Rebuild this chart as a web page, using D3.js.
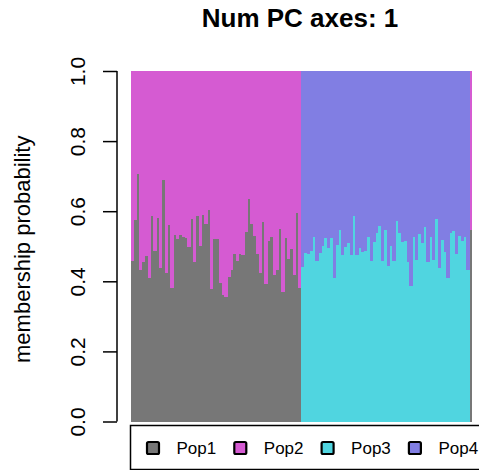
<!DOCTYPE html>
<html>
<head>
<meta charset="utf-8">
<script src="https://cdn.jsdelivr.net/npm/d3@7"></script>
<style>
  html, body { margin: 0; padding: 0; background: #ffffff; }
  svg { display: block; font-family: "Liberation Sans", Arial, sans-serif; }
</style>
</head>
<body>
<div id="chart"></div>
<script>
// Populations and their colours
const popNames = ['Pop1', 'Pop2', 'Pop3', 'Pop4'];
const popColors = ['#777777', '#d55bd2', '#50d5e0', '#817ee3'];

// First block: Pop1 membership per individual (remainder is Pop2)
const blockOnePop1 = [
  0.459, 0.574, 0.705, 0.431, 0.456, 0.472, 0.408, 0.585, 0.487, 0.581,
  0.437, 0.690, 0.423, 0.561, 0.382, 0.532, 0.522, 0.532, 0.526, 0.524,
  0.498, 0.579, 0.454, 0.587, 0.502, 0.589, 0.563, 0.604, 0.378, 0.522,
  0.522, 0.395, 0.361, 0.355, 0.411, 0.433, 0.478, 0.459, 0.478, 0.474,
  0.542, 0.635, 0.563, 0.530, 0.478, 0.425, 0.568, 0.393, 0.516, 0.526,
  0.419, 0.433, 0.549, 0.369, 0.523, 0.464, 0.493, 0.419, 0.595, 0.381,
];

// Second block: Pop3 membership per individual (remainder is Pop4)
const blockTwoPop3 = [
  0.442, 0.482, 0.478, 0.487, 0.525, 0.457, 0.481, 0.501, 0.523, 0.494,
  0.523, 0.409, 0.504, 0.547, 0.475, 0.499, 0.509, 0.476, 0.587, 0.475,
  0.494, 0.483, 0.487, 0.525, 0.457, 0.511, 0.537, 0.559, 0.459, 0.547,
  0.444, 0.501, 0.457, 0.573, 0.538, 0.511, 0.516, 0.454, 0.387, 0.527,
  0.461, 0.536, 0.509, 0.555, 0.454, 0.525, 0.461, 0.578, 0.439, 0.519,
  0.485, 0.409, 0.539, 0.544, 0.478, 0.528, 0.514, 0.525, 0.433,
];

// Trailing individual: Pop1 membership (remainder is Pop2)
const trailingPop1 = [0.547];

const yTicks = [0, 0.2, 0.4, 0.6, 0.8, 1.0];

const width = 479;
const height = 470;
const plot = { left: 130.5, right: 472, top: 71, bottom: 421.5 };

// Build one row per individual
const rows = [];
blockOnePop1.forEach((v) => rows.push({ Pop1: v, Pop2: 1 - v, Pop3: 0, Pop4: 0 }));
blockTwoPop3.forEach((v) => rows.push({ Pop1: 0, Pop2: 0, Pop3: v, Pop4: 1 - v }));
trailingPop1.forEach((v) => rows.push({ Pop1: v, Pop2: 1 - v, Pop3: 0, Pop4: 0 }));
rows.forEach((d, i) => { d.id = i; });

const series = d3.stack().keys(popNames)(rows);

const x = d3.scaleBand()
  .domain(rows.map((d) => d.id))
  .range([plot.left, plot.right])
  .padding(0);

const y = d3.scaleLinear()
  .domain([0, 1])
  .range([plot.bottom, plot.top]);

const color = d3.scaleOrdinal().domain(popNames).range(popColors);

const svg = d3.select('#chart').append('svg')
  .attr('width', width)
  .attr('height', height);

// Title
svg.append('text')
  .attr('x', 300)
  .attr('y', 27)
  .attr('text-anchor', 'middle')
  .attr('font-size', 26)
  .attr('font-weight', 'bold')
  .text('Num PC axes: 1');

// Stacked bars
svg.append('g')
  .selectAll('g')
  .data(series)
  .enter()
  .append('g')
  .attr('fill', (s) => color(s.key))
  .selectAll('rect')
  .data((s) => s)
  .enter()
  .append('rect')
  .attr('x', (d) => x(d.data.id))
  .attr('width', x.bandwidth() + 0.4)
  .attr('y', (d) => y(d[1]))
  .attr('height', (d) => Math.max(0, y(d[0]) - y(d[1])))
  .attr('shape-rendering', 'crispEdges');

// Y axis
const yAxis = svg.append('g')
  .attr('transform', 'translate(117,0)')
  .call(d3.axisLeft(y).tickValues(yTicks).tickSize(14).tickFormat(d3.format('.1f')));

yAxis.select('.domain')
  .attr('stroke', '#000')
  .attr('stroke-width', 1.5)
  .attr('d', `M0,${y(0)}V${y(1)}`);

yAxis.selectAll('.tick line')
  .attr('stroke', '#000')
  .attr('stroke-width', 1.5);

yAxis.selectAll('.tick text')
  .attr('x', null)
  .attr('dy', null)
  .attr('fill', '#000')
  .attr('font-size', 21)
  .attr('font-family', '"Liberation Sans", Arial, sans-serif')
  .attr('text-anchor', 'middle')
  .attr('transform', 'translate(-32,0) rotate(-90)');

// Y axis title
svg.append('text')
  .attr('transform', `translate(30,${(plot.top + plot.bottom) / 2 + 3}) rotate(-90)`)
  .attr('text-anchor', 'middle')
  .attr('font-size', 22)
  .text('membership probability');

// Legend
const legend = svg.append('g');

legend.append('rect')
  .attr('x', 130.5)
  .attr('y', 425.5)
  .attr('width', 400)
  .attr('height', 44)
  .attr('fill', 'none')
  .attr('stroke', '#000')
  .attr('stroke-width', 1.5);

const items = legend.selectAll('g.item')
  .data(popNames)
  .enter()
  .append('g')
  .attr('class', 'item')
  .attr('transform', (d, i) => `translate(${153 + i * 87.3},448)`);

items.append('rect')
  .attr('x', -6)
  .attr('y', -6)
  .attr('width', 12)
  .attr('height', 12)
  .attr('rx', 1.5)
  .attr('fill', (d) => color(d))
  .attr('stroke', '#000')
  .attr('stroke-width', 2.2);

items.append('text')
  .attr('x', 23.5)
  .attr('y', 6)
  .attr('font-size', 17)
  .text((d) => d);
</script>
</body>
</html>
